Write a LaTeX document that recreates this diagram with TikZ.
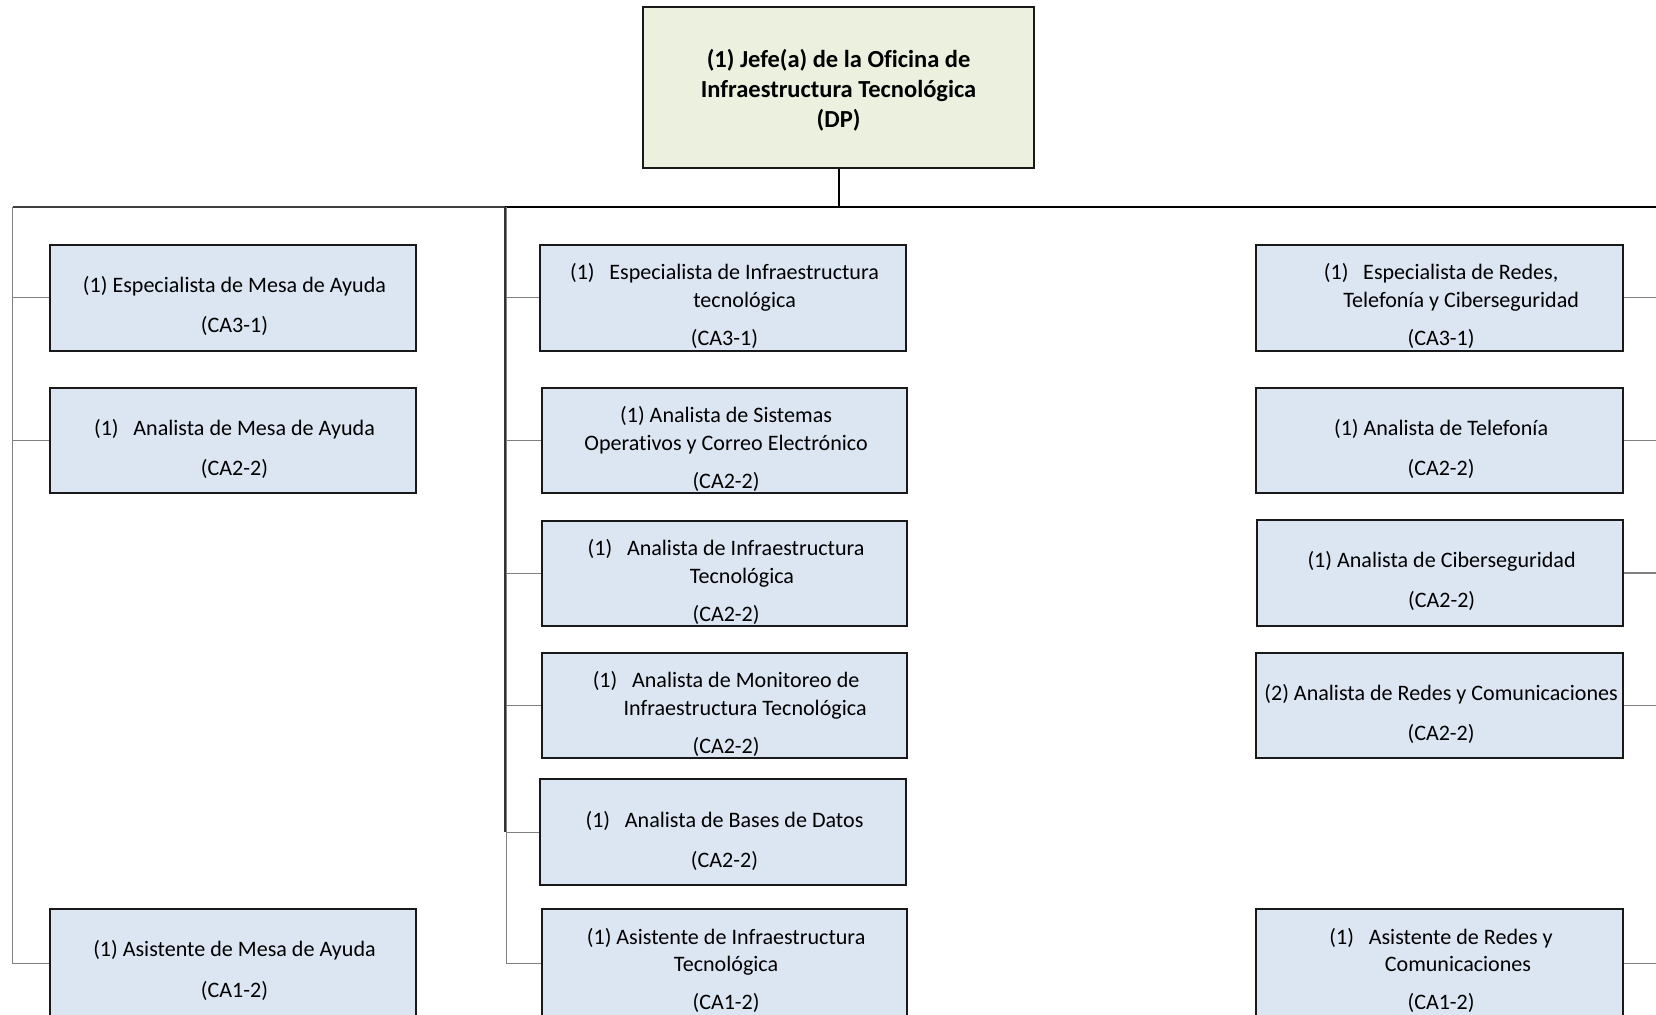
\documentclass[tikz,border=0pt]{standalone}
\usepackage{fontspec}
\setmainfont{Carlito}[Ligatures={NoCommon}]
\usetikzlibrary{fit,calc}
\definecolor{boxblue}{RGB}{220,230,242}
\definecolor{boxgreen}{RGB}{235,241,222}
\definecolor{linegray}{RGB}{128,128,128}
\newcommand\lgap{\hspace{7pt}}
\tikzset{
 orgbox/.style={draw=black!90, line width=0.9pt, fill=boxblue, inner sep=0pt, rectangle},
 topbox/.style={orgbox, fill=boxgreen},
 txt/.style={anchor=base, inner sep=0pt, font=\fontsize{10.45}{13}\selectfont},
 toptxt/.style={anchor=base, inner sep=0pt, font=\fontsize{11.6}{14.25}\selectfont\bfseries},
 branch/.style={draw=linegray, line width=0.55pt},
 bus/.style={draw=black, line width=1pt},
 darkbus/.style={draw=black!80, line width=1.1pt},
}
\begin{document}
\begin{tikzpicture}[x=0.5pt,y=-0.5pt]
\useasboundingbox (0,0) rectangle (1568,961);
% boxes
\node[topbox, fit={(609,7) (979,159)}] (top) {};
\node[orgbox, fit={(47,232) (394,332)}] (b1) {};
\node[orgbox, fit={(47,367) (394,467)}] (b2) {};
\node[orgbox, fit={(47,861) (394,963)}] (b3) {};
\node[orgbox, fit={(511,232) (858,332)}] (m1) {};
\node[orgbox, fit={(513,367) (859,467)}] (m2) {};
\node[orgbox, fit={(513,493) (859,593)}] (m3) {};
\node[orgbox, fit={(513,618) (859,718)}] (m4) {};
\node[orgbox, fit={(511,738) (858,838)}] (m5) {};
\node[orgbox, fit={(513,861) (859,963)}] (m6) {};
\node[orgbox, fit={(1189,232) (1537,332)}] (r1) {};
\node[orgbox, fit={(1189,367) (1537,467)}] (r2) {};
\node[orgbox, fit={(1190,492) (1537,593)}] (r3) {};
\node[orgbox, fit={(1189,618) (1537,718)}] (r4) {};
\node[orgbox, fit={(1189,861) (1537,963)}] (r5) {};
% texts
\node[toptxt] (topt) at (794,63.5) {\begin{tabular}[t]{@{}c@{}}(1) Jefe(a) de la Oficina de\\ Infraestructura Tecnológica\\ (DP)\end{tabular}};
\node[txt] (b1t) at ([shift={(1.5,46)}]b1.north) {\begin{tabular}[t]{@{}c@{}}(1) Especialista de Mesa de Ayuda\\[6pt] (CA3-1)\end{tabular}};
\node[txt] (b2t) at ([shift={(1.5,46)}]b2.north) {\begin{tabular}[t]{@{}c@{}}(1)\lgap Analista de Mesa de Ayuda\\[6pt] (CA2-2)\end{tabular}};
\node[txt] (b3t) at ([shift={(1.5,46)}]b3.north) {\begin{tabular}[t]{@{}c@{}}(1) Asistente de Mesa de Ayuda\\[6pt] (CA1-2)\end{tabular}};
\node[txt] (m1t) at ([shift={(1.5,34)}]m1.north) {\begin{tabular}[t]{@{}c@{}}(1)\lgap Especialista de Infraestructura\\ \hspace*{19pt}tecnológica\\[5pt] (CA3-1)\end{tabular}};
\node[txt] (m2t) at ([shift={(1.5,34)}]m2.north) {\begin{tabular}[t]{@{}c@{}}(1) Analista de Sistemas\\ Operativos y Correo Electrónico\\[5pt] (CA2-2)\end{tabular}};
\node[txt] (m3t) at ([shift={(1.5,34)}]m3.north) {\begin{tabular}[t]{@{}c@{}}(1)\lgap Analista de Infraestructura\\ \hspace*{15pt}Tecnológica\\[5pt] (CA2-2)\end{tabular}};
\node[txt] (m4t) at ([shift={(1.5,34)}]m4.north) {\begin{tabular}[t]{@{}c@{}}(1)\lgap Analista de Monitoreo de\\ \hspace*{18pt}Infraestructura Tecnológica\\[5pt] (CA2-2)\end{tabular}};
\node[txt] (m5t) at ([shift={(1.5,46)}]m5.north) {\begin{tabular}[t]{@{}c@{}}(1)\lgap Analista de Bases de Datos\\[6pt] (CA2-2)\end{tabular}};
\node[txt] (m6t) at ([shift={(1.5,34)}]m6.north) {\begin{tabular}[t]{@{}c@{}}(1) Asistente de Infraestructura\\ Tecnológica\\[5pt] (CA1-2)\end{tabular}};
\node[txt] (r1t) at ([shift={(1.5,34)}]r1.north) {\begin{tabular}[t]{@{}c@{}}(1)\lgap Especialista de Redes,\\ \hspace*{19pt}Telefonía y Ciberseguridad\\[5pt] (CA3-1)\end{tabular}};
\node[txt] (r2t) at ([shift={(1.5,46)}]r2.north) {\begin{tabular}[t]{@{}c@{}}(1) Analista de Telefonía\\[6pt] (CA2-2)\end{tabular}};
\node[txt] (r3t) at ([shift={(1.5,46)}]r3.north) {\begin{tabular}[t]{@{}c@{}}(1) Analista de Ciberseguridad\\[6pt] (CA2-2)\end{tabular}};
\node[txt] (r4t) at ([shift={(1.5,46)}]r4.north) {\begin{tabular}[t]{@{}c@{}}(2) Analista de Redes y Comunicaciones\\[6pt] (CA2-2)\end{tabular}};
\node[txt] (r5t) at ([shift={(1.5,34)}]r5.north) {\begin{tabular}[t]{@{}c@{}}(1)\lgap Asistente de Redes y\\ \hspace*{16pt}Comunicaciones\\[5pt] (CA1-2)\end{tabular}};
% buses
\coordinate (lbus) at (12,196);
\coordinate (mbus) at (478,196);
\coordinate (mbusg) at (479.5,196);
\coordinate (rbus) at (1590,196);
\draw[bus] (top.south) -- (top.south |- mbus);
\draw[bus] (mbus) -- (rbus);
\draw[darkbus, draw=black!75, line width=0.8pt] (lbus) -- (mbus);
% left
\draw[branch] (lbus) -- (lbus |- b3.west) -- (b3.west);
\draw[branch] (lbus |- b1.west) -- (b1.west);
\draw[branch] (lbus |- b2.west) -- (b2.west);
% middle
\draw[branch] (mbusg) -- (mbusg |- m6.west) -- (m6.west);
\draw[darkbus] (mbus) -- (mbus |- m5.west);
\draw[branch] (mbusg |- m1.west) -- (m1.west);
\draw[branch] (mbusg |- m2.west) -- (m2.west);
\draw[branch] (mbusg |- m3.west) -- (m3.west);
\draw[branch] (mbusg |- m4.west) -- (m4.west);
\draw[branch] (mbusg |- m5.west) -- (m5.west);
% right
\draw[branch] (rbus) -- (rbus |- r5.east);
\draw[branch] (r1.east) -- (rbus |- r1.east);
\draw[branch] (r2.east) -- (rbus |- r2.east);
\draw[branch] (r3.east) -- (rbus |- r3.east);
\draw[branch] (r4.east) -- (rbus |- r4.east);
\draw[branch] (r5.east) -- (rbus |- r5.east);
\end{tikzpicture}
\end{document}
